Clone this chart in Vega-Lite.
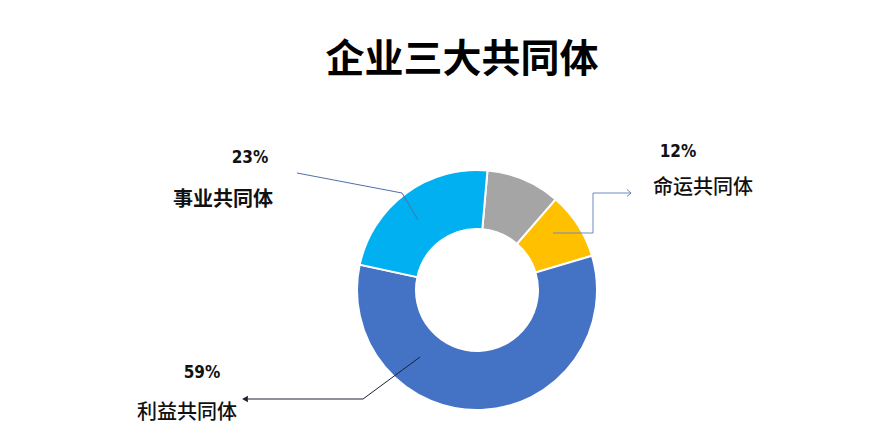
{
  "$schema": "https://vega.github.io/schema/vega-lite/v6.json",
  "width": 872,
  "height": 438,
  "autosize": {"type": "fit", "contains": "padding"},
  "padding": 0,
  "background": "white",
  "datasets": {
    "share": [
      {"group": "其他", "value": 10, "rank": 1},
      {"group": "命运共同体", "value": 9, "rank": 2},
      {"group": "利益共同体", "value": 58, "rank": 3},
      {"group": "事业共同体", "value": 23, "rank": 4}
    ],
    "leaders": [
      {"seg": "事业", "step": 1, "px": 297, "py": 173},
      {"seg": "事业", "step": 2, "px": 402, "py": 193},
      {"seg": "事业", "step": 3, "px": 418, "py": 220},
      {"seg": "命运", "step": 1, "px": 553, "py": 233},
      {"seg": "命运", "step": 2, "px": 593, "py": 233},
      {"seg": "命运", "step": 3, "px": 593, "py": 193},
      {"seg": "命运", "step": 4, "px": 631, "py": 193},
      {"seg": "利益", "step": 1, "px": 420, "py": 357},
      {"seg": "利益", "step": 2, "px": 363, "py": 399},
      {"seg": "利益", "step": 3, "px": 248, "py": 399}
    ],
    "labels": [
      {"text": "23%", "tx": 250, "ty": 158, "kind": "pct"},
      {"text": "事业共同体", "tx": 223, "ty": 200, "kind": "bold"},
      {"text": "12%", "tx": 678, "ty": 152, "kind": "pct"},
      {"text": "命运共同体", "tx": 703, "ty": 188, "kind": "plain"},
      {"text": "59%", "tx": 202, "ty": 373, "kind": "pct"},
      {"text": "利益共同体", "tx": 187, "ty": 413, "kind": "plain"}
    ]
  },
  "layer": [
    {
      "data": {"name": "share"},
      "mark": {"type": "arc", "innerRadius": 61, "outerRadius": 120, "stroke": "white", "strokeWidth": 2},
      "encoding": {
        "x": {"datum": 477, "type": "quantitative", "scale": {"domain": [0, 872], "nice": false, "zero": false}, "axis": null},
        "y": {"datum": 290, "type": "quantitative", "scale": {"domain": [0, 438], "nice": false, "zero": false, "reverse": true}, "axis": null},
        "theta": {"field": "value", "type": "quantitative", "stack": true, "scale": {"range": [0.0873, 6.3705]}},
        "order": {"field": "rank", "type": "quantitative"},
        "color": {
          "field": "group",
          "type": "nominal",
          "scale": {
            "domain": ["其他", "命运共同体", "利益共同体", "事业共同体"],
            "range": ["#A5A5A5", "#FFC000", "#4472C4", "#00B0F0"]
          },
          "legend": null
        }
      }
    },
    {
      "data": {"name": "leaders"},
      "mark": {"type": "line", "strokeWidth": 1},
      "encoding": {
        "x": {"field": "px", "type": "quantitative"},
        "y": {"field": "py", "type": "quantitative"},
        "detail": {"field": "seg"},
        "order": {"field": "step", "type": "quantitative"},
        "stroke": {
          "field": "seg",
          "type": "nominal",
          "scale": {"domain": ["事业", "命运", "利益"], "range": ["#4F6FA8", "#6A8BC4", "#1C2233"]},
          "legend": null
        }
      }
    },
    {
      "data": {"values": [{"px": 245, "py": 399}]},
      "mark": {"type": "point", "shape": "triangle-left", "filled": true, "size": 45, "color": "#1C2233", "opacity": 1},
      "encoding": {
        "x": {"field": "px", "type": "quantitative"},
        "y": {"field": "py", "type": "quantitative"}
      }
    },
    {
      "data": {"values": [{"px": 629, "py": 193}]},
      "mark": {"type": "point", "shape": "M-0.6,-1L0.6,0L-0.6,1", "filled": false, "size": 50, "stroke": "#6A8BC4", "strokeWidth": 1, "opacity": 1},
      "encoding": {
        "x": {"field": "px", "type": "quantitative"},
        "y": {"field": "py", "type": "quantitative"}
      }
    },
    {
      "data": {"name": "labels"},
      "transform": [{"filter": "datum.kind == 'pct'"}],
      "mark": {"type": "text", "font": "DejaVu Sans Condensed", "fontWeight": "bold", "fontSize": 17, "color": "#111111", "baseline": "middle", "align": "center"},
      "encoding": {
        "x": {"field": "tx", "type": "quantitative"},
        "y": {"field": "ty", "type": "quantitative"},
        "text": {"field": "text"}
      }
    },
    {
      "data": {"name": "labels"},
      "transform": [{"filter": "datum.kind == 'bold'"}],
      "mark": {"type": "text", "font": "Noto Sans CJK SC", "fontWeight": "bold", "fontSize": 20, "color": "#111111", "baseline": "middle", "align": "center"},
      "encoding": {
        "x": {"field": "tx", "type": "quantitative"},
        "y": {"field": "ty", "type": "quantitative"},
        "text": {"field": "text"}
      }
    },
    {
      "data": {"name": "labels"},
      "transform": [{"filter": "datum.kind == 'plain'"}],
      "mark": {"type": "text", "font": "Noto Sans CJK SC", "fontWeight": 500, "fontSize": 20, "color": "#111111", "baseline": "middle", "align": "center"},
      "encoding": {
        "x": {"field": "tx", "type": "quantitative"},
        "y": {"field": "ty", "type": "quantitative"},
        "text": {"field": "text"}
      }
    },
    {
      "data": {"values": [{"title": "企业三大共同体"}]},
      "mark": {"type": "text", "font": "Noto Sans CJK SC", "fontWeight": "bold", "fontSize": 39, "color": "#000000", "baseline": "middle", "align": "center"},
      "encoding": {
        "x": {"datum": 462, "type": "quantitative"},
        "y": {"datum": 60, "type": "quantitative"},
        "text": {"field": "title"}
      }
    }
  ],
  "config": {"view": {"stroke": null}}
}
